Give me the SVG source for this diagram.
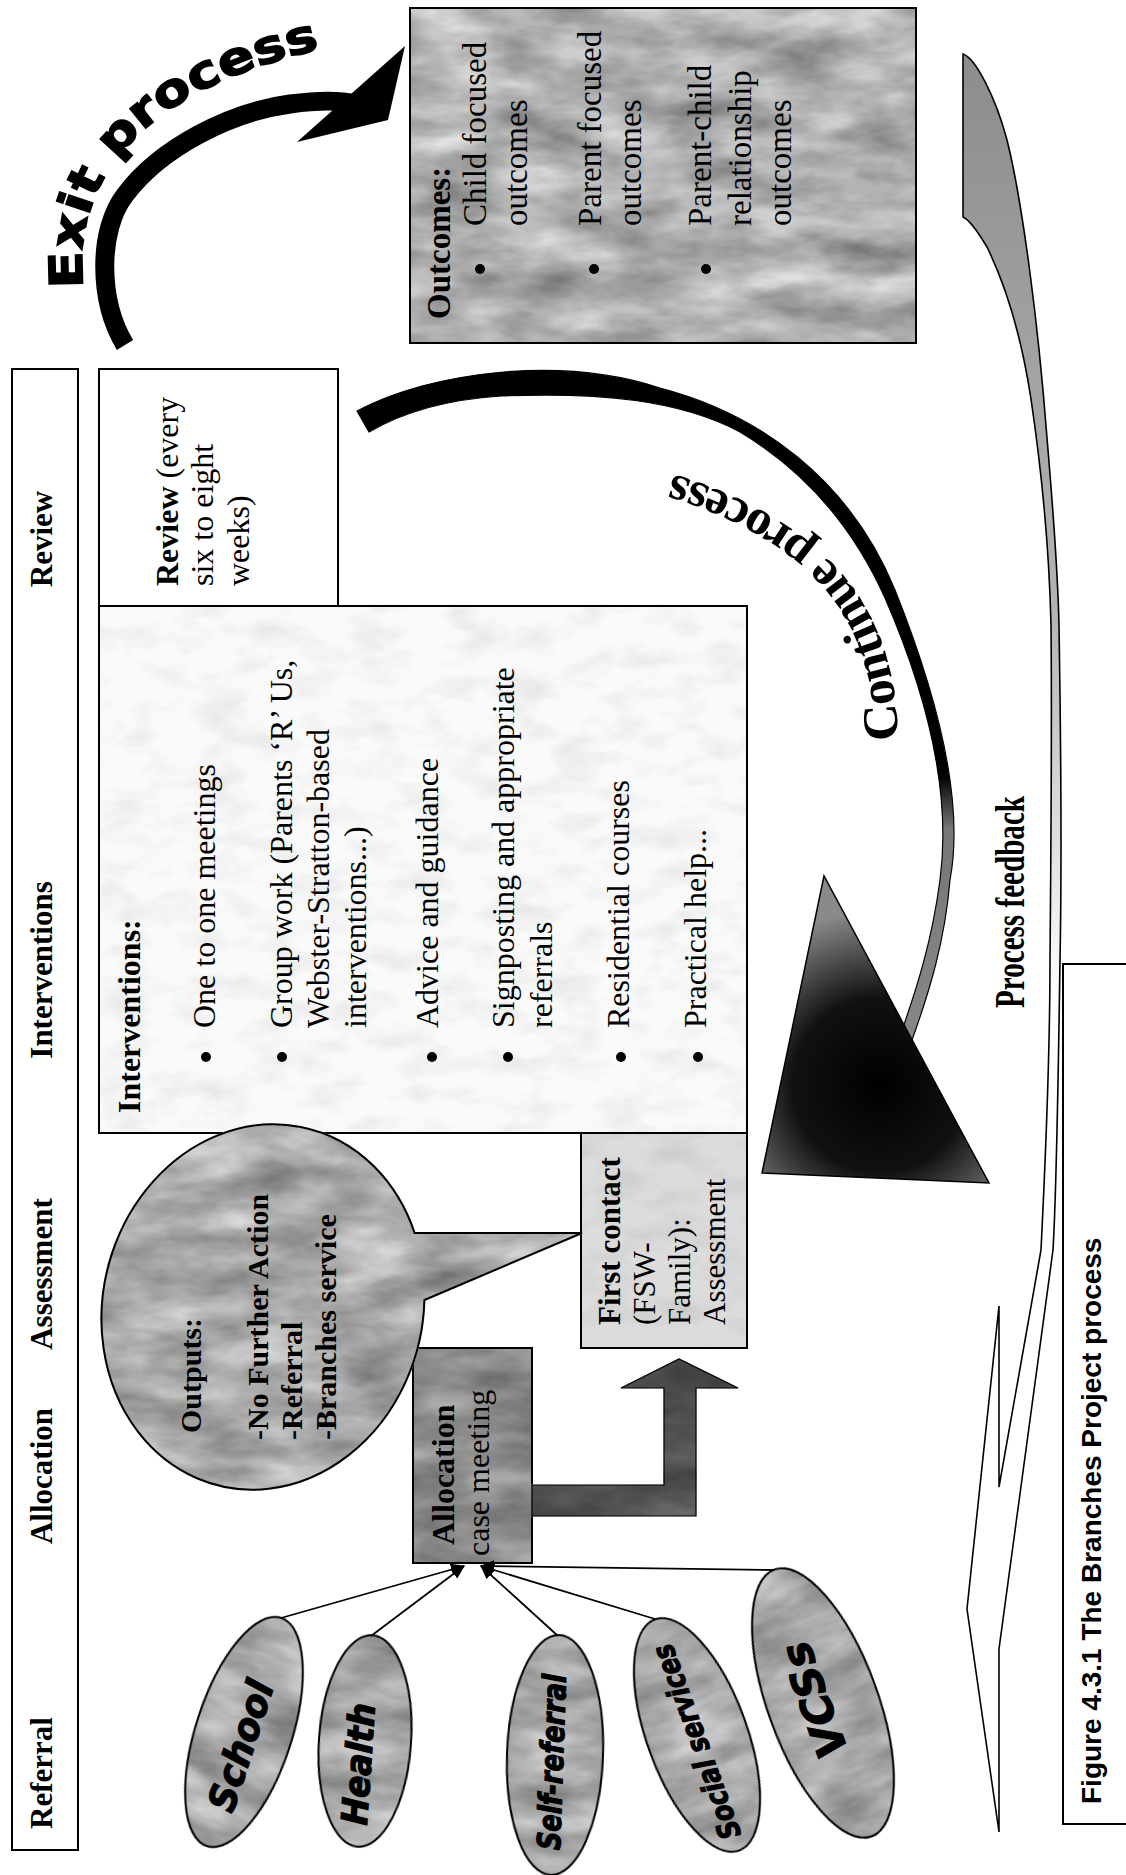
<svg xmlns="http://www.w3.org/2000/svg" width="1126" height="1875" viewBox="0 0 1126 1875">
<defs>
<style>
text { font-family: "Liberation Serif", "Times New Roman", serif; fill: #000; }
.hdr { font-size: 31px; font-weight: bold; text-anchor: middle; }
.t32 { font-size: 32px; }
.t31 { font-size: 31px; }
.t30 { font-size: 30px; font-weight: bold; }
.b { font-weight: bold; }
.box { stroke: #000; stroke-width: 2; }
.src { stroke: #000; stroke-width: 2; fill: #dadada; }
.srct { font-family: "DejaVu Sans", "Liberation Sans", sans-serif; font-weight: bold; font-style: italic; text-anchor: middle; stroke: #000; stroke-width: 1.2; }
.conn { stroke: #000; stroke-width: 1.8; fill: none; }
.cap { font-family: "Liberation Sans", Arial, sans-serif; font-weight: bold; font-size: 28px; }
.exitt { font-family: "DejaVu Sans", "Liberation Sans", sans-serif; font-weight: bold; font-size: 46px; stroke: #000; stroke-width: 1.5; }
</style>
<filter id="tex" x="-3%" y="-3%" width="106%" height="106%" color-interpolation-filters="sRGB">
<feTurbulence type="fractalNoise" baseFrequency="0.012 0.03" numOctaves="4" seed="5" result="n"/>
<feColorMatrix in="n" type="matrix" values="0.6 0 0 0 0.47  0.6 0 0 0 0.47  0.6 0 0 0 0.47  0 0 0 0 1" result="g"/>
<feComposite in="g" in2="SourceGraphic" operator="in" result="t"/>
<feBlend in="t" in2="SourceGraphic" mode="multiply"/>
</filter>
<filter id="texL" x="-3%" y="-3%" width="106%" height="106%" color-interpolation-filters="sRGB">
<feTurbulence type="fractalNoise" baseFrequency="0.02 0.04" numOctaves="4" seed="9" result="n"/>
<feColorMatrix in="n" type="matrix" values="0.16 0 0 0 0.91  0.16 0 0 0 0.91  0.16 0 0 0 0.91  0 0 0 0 1" result="g"/>
<feComposite in="g" in2="SourceGraphic" operator="in" result="t"/>
<feBlend in="t" in2="SourceGraphic" mode="multiply"/>
</filter>
<radialGradient id="triG" gradientUnits="userSpaceOnUse" cx="880" cy="1085" r="175">
<stop offset="0" stop-color="#000"/>
<stop offset="0.5" stop-color="#111"/>
<stop offset="1" stop-color="#8a8a8a"/>
</radialGradient>
<linearGradient id="ribG" gradientUnits="userSpaceOnUse" x1="0" y1="54" x2="0" y2="1000">
<stop offset="0" stop-color="#8c8c8c"/>
<stop offset="0.6" stop-color="#b5b5b5"/>
<stop offset="1" stop-color="#ffffff"/>
</linearGradient>
<linearGradient id="contG" gradientUnits="userSpaceOnUse" x1="0" y1="380" x2="0" y2="1040">
<stop offset="0" stop-color="#000"/>
<stop offset="0.6" stop-color="#000"/>
<stop offset="0.68" stop-color="#777"/>
<stop offset="1" stop-color="#888"/>
</linearGradient>
<linearGradient id="lG" x1="0" y1="0" x2="1" y2="1">
<stop offset="0" stop-color="#505050"/>
<stop offset="1" stop-color="#7a7a7a"/>
</linearGradient>
<marker id="ah" markerWidth="14" markerHeight="12" refX="13" refY="6" orient="auto" markerUnits="userSpaceOnUse">
<path d="M0,0 L14,6 L0,12 Z" fill="#000"/>
</marker>
<path id="exitPath" d="M84,292 C70,185 135,85 345,44" fill="none"/>
<path id="contPath" d="M898,748 C898,650 870,530 660,470" fill="none"/>
</defs>

<rect x="0" y="0" width="1126" height="1875" fill="#fff"/>

<g id="header">
<rect x="12" y="369" width="66" height="1481" fill="#fff" class="box"/>
<g transform="rotate(-90)">
<text class="hdr" x="-539" y="52">Review</text>
<text class="hdr" x="-970" y="52">Interventions</text>
<text class="hdr" x="-1274" y="52">Assessment</text>
<text class="hdr" x="-1476" y="52">Allocation</text>
<text class="hdr" x="-1773" y="52">Referral</text>
</g>
</g>

<g id="review">
<rect x="99" y="369" width="239" height="237" fill="#fff" class="box"/>
<text transform="rotate(-90)" class="t32"><tspan x="-586" y="178"><tspan class="b">Review</tspan> (every</tspan><tspan x="-586" y="213">six to eight</tspan><tspan x="-586" y="249">weeks)</tspan></text>
</g>

<g id="interventions">
<rect x="99" y="606" width="648" height="527" fill="#fafafa" class="box" filter="url(#texL)"/>
<g fill="#000">
<circle cx="206" cy="1057" r="5"/>
<circle cx="282" cy="1057" r="5"/>
<circle cx="432" cy="1057" r="5"/>
<circle cx="508" cy="1057" r="5"/>
<circle cx="621" cy="1057" r="5"/>
<circle cx="698" cy="1057" r="5"/>
</g>
<text transform="rotate(-90)" class="t32">
<tspan class="b" x="-1113" y="140">Interventions:</tspan>
<tspan x="-1028" y="215">One to one meetings</tspan>
<tspan x="-1028" y="292">Group work (Parents ‘R’ Us,</tspan>
<tspan x="-1028" y="329">Webster-Stratton-based</tspan>
<tspan x="-1028" y="366">interventions...)</tspan>
<tspan x="-1028" y="438">Advice and guidance</tspan>
<tspan x="-1028" y="514">Signposting and appropriate</tspan>
<tspan x="-1028" y="552">referrals</tspan>
<tspan x="-1028" y="629">Residential courses</tspan>
<tspan x="-1028" y="706">Practical help...</tspan>
</text>
</g>

<g id="outcomes">
<rect x="410" y="8" width="506" height="335" fill="#e4e4e4" class="box" filter="url(#tex)"/>
<g fill="#000">
<circle cx="480" cy="269" r="5"/>
<circle cx="594" cy="269" r="5"/>
<circle cx="706" cy="269" r="5"/>
</g>
<text transform="rotate(-90)" style="font-size:33px">
<tspan class="b" x="-319" y="450">Outcomes:</tspan>
<tspan x="-226" y="486">Child focused</tspan>
<tspan x="-226" y="527">outcomes</tspan>
<tspan x="-226" y="601">Parent focused</tspan>
<tspan x="-226" y="641">outcomes</tspan>
<tspan x="-226" y="711">Parent-child</tspan>
<tspan x="-226" y="751">relationship</tspan>
<tspan x="-226" y="791">outcomes</tspan>
</text>
</g>

<g id="first-contact">
<rect x="581" y="1133" width="166" height="215" fill="#dcdcdc" class="box" filter="url(#texL)"/>
<text transform="rotate(-90)" class="t31">
<tspan class="b" x="-1325" y="620">First contact</tspan>
<tspan x="-1325" y="655">(FSW-</tspan>
<tspan x="-1325" y="690">Family):</tspan>
<tspan x="-1325" y="725">Assessment</tspan>
</text>
</g>

<g id="allocation">
<rect x="413" y="1348" width="119" height="215" fill="#b4b4b4" class="box" filter="url(#tex)"/>
<text transform="rotate(-90)" class="t32">
<tspan class="b" x="-1545" y="454">Allocation</tspan>
<tspan x="-1556" y="489">case meeting</tspan>
</text>
</g>

<g id="outputs">
<path d="M414.6,1233 L582,1233 L424.4,1300 A160,184 14 1 1 414.6,1233 Z" fill="#dcdcdc" stroke="#000" stroke-width="2" filter="url(#tex)"/>
<text transform="rotate(-90)" class="t30">
<tspan x="-1433" y="201">Outputs:</tspan>
<tspan x="-1440" y="268">-No Further Action</tspan>
<tspan x="-1440" y="302">-Referral</tspan>
<tspan x="-1440" y="336">-Branches service</tspan>
</text>
</g>

<g id="src-school">
<ellipse cx="244" cy="1732" rx="48" ry="120" transform="rotate(18 244 1732)" class="src" filter="url(#tex)"/>
<text class="srct" transform="translate(241,1746) rotate(-72)" x="0" y="13" font-size="38" textLength="135" lengthAdjust="spacingAndGlyphs">School</text>
</g>
<g id="src-health">
<ellipse cx="365" cy="1741" rx="46" ry="106" transform="rotate(4 365 1741)" class="src" filter="url(#tex)"/>
<text class="srct" transform="translate(358,1764) rotate(-86)" x="0" y="13" font-size="36" textLength="122" lengthAdjust="spacingAndGlyphs">Health</text>
</g>
<g id="src-self">
<ellipse cx="555" cy="1755" rx="48" ry="120" transform="rotate(2 555 1755)" class="src" filter="url(#tex)"/>
<text class="srct" transform="translate(551,1762) rotate(-88)" x="0" y="12" font-size="32" textLength="176" lengthAdjust="spacingAndGlyphs">Self-referral</text>
</g>
<g id="src-social">
<ellipse cx="697" cy="1735" rx="50" ry="123" transform="rotate(-20 697 1735)" class="src" filter="url(#tex)"/>
<text class="srct" transform="translate(696,1742) rotate(-110)" x="0" y="11" font-size="30" textLength="205" lengthAdjust="spacingAndGlyphs">Social services</text>
</g>
<g id="src-vcss">
<ellipse cx="823" cy="1703" rx="55" ry="142" transform="rotate(-20 823 1703)" class="src" filter="url(#tex)"/>
<text class="srct" transform="translate(814,1700) rotate(-110)" x="0" y="15" font-size="42" textLength="120" lengthAdjust="spacingAndGlyphs">VCSs</text>
</g>

<g id="connectors">
<line class="conn" x1="281" y1="1618" x2="464" y2="1566" marker-end="url(#ah)"/>
<line class="conn" x1="371" y1="1636" x2="464" y2="1566" marker-end="url(#ah)"/>
<line class="conn" x1="558" y1="1636" x2="481" y2="1566" marker-end="url(#ah)"/>
<line class="conn" x1="655" y1="1619" x2="481" y2="1566" marker-end="url(#ah)"/>
<line class="conn" x1="774" y1="1570" x2="481" y2="1566" marker-end="url(#ah)"/>
<polygon points="532,1485 664,1485 664,1388 621,1388 679,1359 738,1388 696,1388 696,1516 532,1516" fill="url(#lG)" stroke="#000" stroke-width="1.2" filter="url(#tex)"/>
<g id="exit-arrow">
<path d="M125,345 C98,300 98,230 125,195 C160,148 230,112 290,104 C320,100 340,100 355,104" fill="none" stroke="#000" stroke-width="19"/>
<polygon points="297,142 405,46 388,120" fill="#000"/>
<text class="exitt"><textPath href="#exitPath" startOffset="4" textLength="372" lengthAdjust="spacingAndGlyphs">Exit process</textPath></text>
</g>
<g id="continue-arrow">
<path d="M357,411 C430,372 560,355 660,388 C760,414 850,480 895,590 C935,690 965,800 950,880 C945,940 930,990 912,1040 L900,1036 C918,985 932,940 940,880 C952,790 925,690 885,598 C850,520 800,468 740,432 C680,400 600,392 501,396 C440,400 400,414 369,432 Z" fill="url(#contG)" stroke="#000" stroke-width="1.2"/>
<polygon points="824,876 762,1173 989,1183" fill="url(#triG)" stroke="#000" stroke-width="1.5"/>
<text font-weight="bold" font-size="50"><textPath href="#contPath" startOffset="8" textLength="378" lengthAdjust="spacingAndGlyphs">Continue process</textPath></text>
</g>
<g id="feedback-arrow">
<path d="M963,54 C975,58 995,95 1007,140 C1022,200 1038,320 1047,438 C1054,520 1058,580 1059,625 C1061,750 1062,860 1060,960 C1058,1100 1056,1200 1053,1250 L999,1649 L999,1832 L967,1609 L999,1306 L999,1487 L1041,1250 C1046,1150 1050,1050 1050,960 C1051,850 1052,720 1051,625 C1049,540 1040,460 1031,399 C1022,340 1008,290 987,247 C978,232 970,220 963,217 Z" fill="url(#ribG)" stroke="#000" stroke-width="1.6" stroke-linejoin="miter"/>
<text transform="rotate(-90)" x="-1008" y="1024" font-size="42" font-weight="bold" textLength="212" lengthAdjust="spacingAndGlyphs">Process feedback</text>
</g>
</g>

<g id="caption">
<rect x="1063" y="964" width="100" height="860" fill="none" stroke="#000" stroke-width="2"/>
<text class="cap" transform="rotate(-90)" x="-1804" y="1101">Figure 4.3.1 The Branches Project process</text>
</g>
</svg>
